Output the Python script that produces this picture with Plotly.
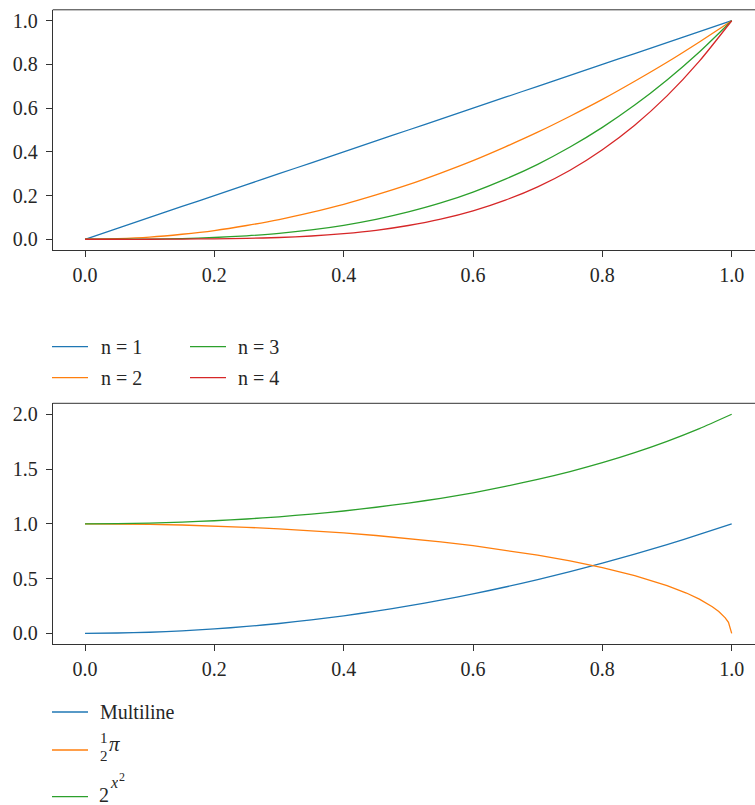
import plotly.graph_objects as go
from plotly.subplots import make_subplots

# ---------------- data ----------------
x_top = [0.0, 0.05, 0.1, 0.15, 0.2, 0.25, 0.3, 0.35, 0.4, 0.45, 0.5,
         0.55, 0.6, 0.65, 0.7, 0.75, 0.8, 0.85, 0.9, 0.95, 1.0]
n1 = [0.0, 0.05, 0.1, 0.15, 0.2, 0.25, 0.3, 0.35, 0.4, 0.45, 0.5,
      0.55, 0.6, 0.65, 0.7, 0.75, 0.8, 0.85, 0.9, 0.95, 1.0]
n2 = [0.0, 0.003, 0.01, 0.023, 0.04, 0.063, 0.09, 0.123, 0.16, 0.203, 0.25,
      0.303, 0.36, 0.423, 0.49, 0.563, 0.64, 0.723, 0.81, 0.903, 1.0]
n3 = [0.0, 0.0, 0.001, 0.003, 0.008, 0.016, 0.027, 0.043, 0.064, 0.091, 0.125,
      0.166, 0.216, 0.275, 0.343, 0.422, 0.512, 0.614, 0.729, 0.857, 1.0]
n4 = [0.0, 0.0, 0.0, 0.001, 0.002, 0.004, 0.008, 0.015, 0.026, 0.041, 0.063,
      0.092, 0.130, 0.179, 0.240, 0.316, 0.410, 0.522, 0.656, 0.815, 1.0]
top_names = ["n = 1", "n = 2", "n = 3", "n = 4"]

x_bot = [0.0, 0.05, 0.1, 0.15, 0.2, 0.25, 0.3, 0.35, 0.4, 0.45, 0.5,
         0.55, 0.6, 0.65, 0.7, 0.75, 0.8, 0.85, 0.9, 0.95, 1.0]
multiline = [0.0, 0.003, 0.01, 0.023, 0.04, 0.063, 0.09, 0.123, 0.16, 0.203, 0.25,
             0.303, 0.36, 0.423, 0.49, 0.563, 0.64, 0.723, 0.81, 0.903, 1.0]
x_half_pi = [0.0, 0.05, 0.1, 0.15, 0.2, 0.25, 0.3, 0.35, 0.4, 0.45, 0.5,
             0.55, 0.6, 0.65, 0.7, 0.75, 0.8, 0.85, 0.9, 0.93, 0.95, 0.97,
             0.98, 0.99, 0.995, 1.0]
half_pi = [1.0, 0.999, 0.995, 0.989, 0.980, 0.968, 0.954, 0.937, 0.917, 0.893, 0.866,
           0.835, 0.800, 0.760, 0.714, 0.661, 0.600, 0.527, 0.436, 0.368, 0.312, 0.243,
           0.199, 0.141, 0.100, 0.0]
two_pow = [1.0, 1.002, 1.007, 1.016, 1.028, 1.044, 1.064, 1.089, 1.117, 1.151, 1.189,
           1.233, 1.283, 1.341, 1.405, 1.477, 1.558, 1.650, 1.753, 1.869, 2.0]

top_ticks_x = [0.0, 0.2, 0.4, 0.6, 0.8, 1.0]
top_ticks_y = [0.0, 0.2, 0.4, 0.6, 0.8, 1.0]
bot_ticks_y = [0.0, 0.5, 1.0, 1.5, 2.0]

colors = ["#1f77b4", "#ff7f0e", "#2ca02c", "#d62728"]

# ---------------- figure ----------------
W, H = 755, 805
FONT = "Liberation Serif, Times New Roman, DejaVu Serif, serif"
TXT = "#262626"
FRAME = "#333333"
FS = 20


def px(x):
    return x / W


def py(y):
    return 1 - y / H


fig = make_subplots(rows=2, cols=1)

for ys, name, c in zip([n1, n2, n3, n4], top_names, colors):
    fig.add_trace(go.Scatter(x=x_top, y=ys, mode="lines", name=name,
                             line=dict(color=c, width=1.3, shape="spline", smoothing=0.6),
                             showlegend=False), row=1, col=1)

fig.add_trace(go.Scatter(x=x_bot, y=multiline, mode="lines", name="Multiline",
                         line=dict(color=colors[0], width=1.3, shape="spline", smoothing=0.6),
                         showlegend=False), row=2, col=1)
fig.add_trace(go.Scatter(x=x_half_pi, y=half_pi, mode="lines", name="1/2 π",
                         line=dict(color=colors[1], width=1.3),
                         showlegend=False), row=2, col=1)
fig.add_trace(go.Scatter(x=x_bot, y=two_pow, mode="lines", name="2^x²",
                         line=dict(color=colors[2], width=1.3, shape="spline", smoothing=0.6),
                         showlegend=False), row=2, col=1)

xdom = [px(52.7), 1.0]
xrange = [-0.05, (W - 85) / 646.7]
axis_common = dict(showline=True, linecolor=FRAME, linewidth=1, ticks="outside",
                   ticklen=6, tickwidth=1, tickcolor=FRAME, showgrid=False, zeroline=False,
                   tickfont=dict(family=FONT, size=FS, color=TXT), tickformat=".1f")

fig.update_layout(
    width=W, height=H, margin=dict(l=0, r=0, t=0, b=0),
    paper_bgcolor="white", plot_bgcolor="white",
    xaxis=dict(domain=xdom, range=xrange, tickvals=top_ticks_x, anchor="y",
               ticklabelstandoff=1, **axis_common),
    yaxis=dict(domain=[py(250.2), py(9.8)], range=[-0.05, 1.05], tickvals=top_ticks_y,
               anchor="x", ticklabelstandoff=4, **axis_common),
    xaxis2=dict(domain=xdom, range=xrange, tickvals=top_ticks_x, anchor="y2",
                ticklabelstandoff=1, **axis_common),
    yaxis2=dict(domain=[py(644.3), py(403.3)], range=[-0.1, 2.1], tickvals=bot_ticks_y,
                anchor="x2", ticklabelstandoff=4, **axis_common),
)

# top frame lines
for yref in ["y domain", "y2 domain"]:
    xr = "x domain" if yref == "y domain" else "x2 domain"
    fig.add_shape(type="line", xref=xr, yref=yref, x0=0, x1=1, y0=1, y1=1,
                  line=dict(color=FRAME, width=1))

# ---------------- manual legends ----------------
def legend_line(x0, x1, y, color):
    fig.add_shape(type="line", xref="paper", yref="paper",
                  x0=px(x0), x1=px(x1), y0=py(y), y1=py(y),
                  line=dict(color=color, width=1.3))


def legend_text(x, y, text, size=FS, height=None):
    fig.add_annotation(xref="paper", yref="paper", x=px(x), y=py(y), text=text,
                       showarrow=False, xanchor="left", yanchor="middle",
                       xshift=-2, borderpad=0, height=height, valign="middle",
                       font=dict(family=FONT, size=size, color=TXT))


# top legend (two columns)
top_pos = [(52, 102, 346.7), (52, 102, 377.7), (190, 239, 346.7), (190, 239, 377.7)]
for (lx, tx, ly), name, c in zip(top_pos, top_names, colors):
    legend_line(lx, lx + 36, ly, c)
    legend_text(tx, ly, name)

# bottom legend
legend_line(52, 88, 712, colors[0])
legend_text(101, 712, "Multiline")

legend_line(52, 88, 750, colors[1])
legend_text(100.5, 738, "1", size=15, height=14)
legend_text(100.5, 755.5, "2", size=15, height=14)
legend_text(109.5, 744, "<i>π</i>", size=21)

legend_line(52, 88, 796.7, colors[2])
legend_text(100, 794.5, "2", size=FS, height=20)
legend_text(111.5, 782, "<i>x</i>", size=16, height=16)
legend_text(120, 776.5, "2", size=12, height=12)

fig.write_html("out.html", config={"displayModeBar": False},
               post_script="document.body.style.margin='0';document.body.style.overflow='hidden';")
